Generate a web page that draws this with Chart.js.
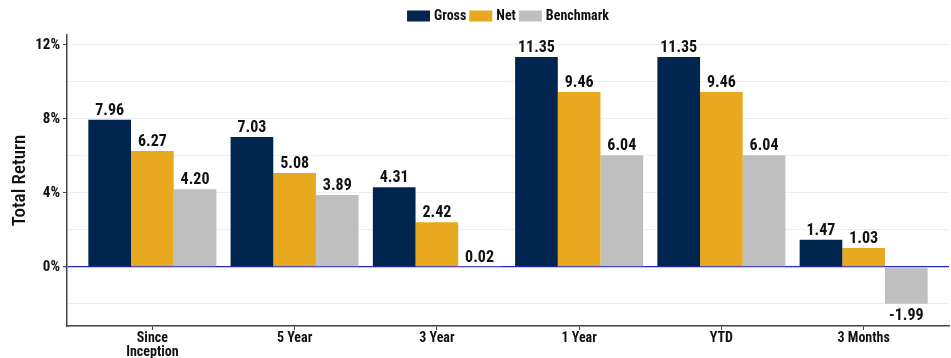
<!DOCTYPE html>
<html>
<head>
<meta charset="utf-8">
<script src="https://cdn.jsdelivr.net/npm/chart.js@4.4.1/dist/chart.umd.min.js"></script>
<style>
  html, body { margin: 0; padding: 0; background: #fff; }
  #wrap { width: 951px; height: 358px; }
</style>
</head>
<body>
<div id="wrap"><canvas id="c" width="951" height="358"></canvas></div>
<script>
const categories = [['Since', 'Inception'], '5 Year', '3 Year', '1 Year', 'YTD', '3 Months'];
const gross = [7.96, 7.03, 4.31, 11.35, 11.35, 1.47];
const net = [6.27, 5.08, 2.42, 9.46, 9.46, 1.03];
const benchmark = [4.20, 3.89, 0.02, 6.04, 6.04, -1.99];
const yTickLabels = { '0': '0%', '4': '4%', '8': '8%', '12': '12%' };

const FONT = "'Liberation Sans Narrow', 'Roboto Condensed', 'DejaVu Sans Condensed', sans-serif";

function points(values) {
  return values.map((v, i) => ({ x: i, y: v }));
}

// Value labels above positive bars and below negative ones
const valueLabels = {
  id: 'valueLabels',
  afterDatasetsDraw(chart) {
    const ctx = chart.ctx;
    ctx.save();
    ctx.font = 'bold 16px ' + FONT;
    ctx.fillStyle = '#111';
    ctx.textAlign = 'center';
    chart.data.datasets.forEach((ds, di) => {
      const meta = chart.getDatasetMeta(di);
      meta.data.forEach((bar, i) => {
        const v = ds.data[i].y;
        const txt = v.toFixed(2);
        if (v >= 0) {
          ctx.textBaseline = 'bottom';
          ctx.fillText(txt, bar.x, bar.y - 1);
        } else {
          ctx.textBaseline = 'top';
          ctx.fillText(txt, bar.x, bar.y + 4);
        }
      });
    });
    ctx.restore();
  }
};

// Compact legend row centred over the plot panel
const panelLegend = {
  id: 'panelLegend',
  afterDraw(chart) {
    const ctx = chart.ctx;
    const area = chart.chartArea;
    const boxW = 23, boxH = 11, textGap = 4, itemGap = 3;
    ctx.save();
    ctx.font = 'bold 14px ' + FONT;
    ctx.textBaseline = 'middle';
    ctx.textAlign = 'left';
    const items = chart.data.datasets.map(ds => ({
      label: ds.label, color: ds.backgroundColor, w: ctx.measureText(ds.label).width
    }));
    const total = items.reduce((s, it) => s + boxW + textGap + it.w, 0) + itemGap * (items.length - 1);
    let x = (area.left + area.right) / 2 - total / 2;
    const cy = 16;
    items.forEach(it => {
      ctx.fillStyle = it.color;
      ctx.fillRect(x, cy - boxH / 2, boxW, boxH);
      x += boxW + textGap;
      ctx.fillStyle = '#111';
      ctx.fillText(it.label, x, cy + 0.5);
      x += it.w + itemGap;
    });
    ctx.restore();
  }
};

new Chart(document.getElementById('c'), {
  type: 'bar',
  data: {
    datasets: [
      { label: 'Gross', data: points(gross), backgroundColor: '#00264f' },
      { label: 'Net', data: points(net), backgroundColor: '#e8a81f' },
      { label: 'Benchmark', data: points(benchmark), backgroundColor: '#bfbfbf' }
    ]
  },
  options: {
    responsive: false,
    animation: false,
    devicePixelRatio: 1,
    layout: { padding: { left: 0, right: 2, top: 35, bottom: 0 } },
    datasets: { bar: { categoryPercentage: 0.9, barPercentage: 1.0 } },
    plugins: {
      tooltip: { enabled: false },
      legend: { display: false }
    },
    scales: {
      x: {
        type: 'linear',
        min: -0.6,
        max: 5.6,
        offset: false,
        afterFit(scale) { scale.height = 32; },
        border: { color: '#444', width: 1.5 },
        grid: { offset: false, drawOnChartArea: false, tickLength: 4, tickColor: '#444' },
        ticks: {
          stepSize: 1,
          includeBounds: false,
          autoSkip: false,
          maxRotation: 0,
          padding: 1,
          color: '#111',
          font: { family: FONT, size: 14, weight: 'bold', lineHeight: 1.0 },
          callback: (v) => categories[v]
        }
      },
      y: {
        min: -3.19,
        max: 12.54,
        afterFit(scale) { scale.width = 67; },
        border: { color: '#444', width: 1.5 },
        grid: {
          tickLength: 4,
          color: (c) => c.tick && c.tick.value === 0 ? '#2626d9' : '#efefef',
          lineWidth: (c) => c.tick && c.tick.value === 0 ? 1.3 : 1,
          tickColor: (c) => c.tick && (c.tick.value in yTickLabels) ? '#444' : 'rgba(0,0,0,0)'
        },
        ticks: {
          stepSize: 2,
          includeBounds: false,
          padding: 3,
          color: '#111',
          font: { family: FONT, size: 15, weight: 'bold' },
          callback: (v) => yTickLabels[String(v)] || ''
        },
        title: {
          display: true,
          text: 'Total Return',
          color: '#111',
          padding: { top: 9, bottom: 0 },
          font: { family: FONT, size: 19, weight: '500' }
        }
      }
    }
  },
  plugins: [valueLabels, panelLegend]
});
</script>
</body>
</html>
